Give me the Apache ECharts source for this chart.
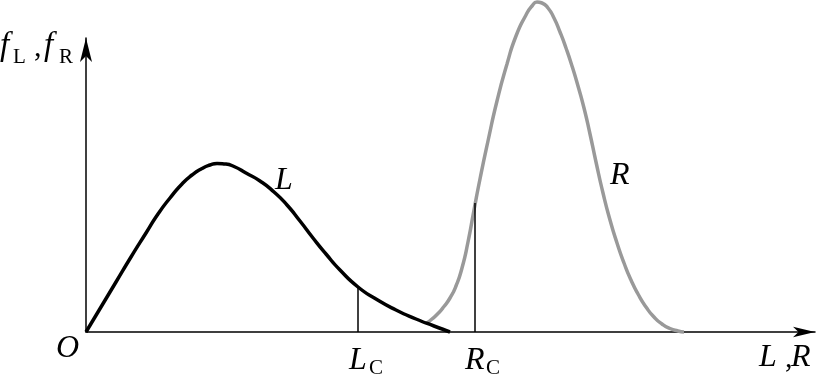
<!DOCTYPE html>
<html><head><meta charset="utf-8">
<script src="https://cdn.jsdelivr.net/npm/echarts@6/dist/echarts.min.js"></script>
<style>html,body{margin:0;padding:0;background:#fff}#c{width:824px;height:376px}</style>
</head><body><div id="c"></div>
<script>
// Load distribution L (black) : [L, f_L]
const loadCurve = [[0,0],[15,25],[30,50],[45,75],[60,99],[72,118],[84,134],[96,148],[106,157],[116,163.5],[124,167],[131,168.5],[139,168],[148,165.5],[160,159],[174,151],[188,140],[201,127],[214,111],[227,94],[240,78],[254,62],[272,45],[290,33],[310,22],[330,13],[348,6],[364,0]];
// Resistance distribution R (gray) : [R, f_R]
const resistCurve = [[341,9],[346,13],[352,18.5],[358,25.5],[364,34],[370,46],[376,64],[382,90],[388,122],[394,153],[402,191],[411,231],[421,268],[430,296],[440,317],[446,326],[451,330],[456,329],[462,324],[468,314],[474,300],[480,284],[486,266],[492,246],[498,224],[504,198],[510,170],[517,139],[524,112],[531,89],[538,69],[545,52],[552,38],[560,25],[568,15],[576,8],[584,3.5],[592,1],[598,0]];
// Critical values
const lcLine = [[272,0],[272,44]];
const rcLine = [[389,0],[389,129]];
const xMax = 729, yMax = 294;

const serif = '"Liberation Serif", "DejaVu Serif", serif';
function txt(x, y, s, size, italic) {
  return {type:'text', x:x, y:y, style:{text:s, font:(italic?'italic ':'')+size+'px '+serif, fill:'#000', verticalAlign:'bottom', align:'left'}};
}
const chart = echarts.init(document.getElementById('c'));
chart.setOption({
  animation:false,
  grid:{left:86, right:9, top:38, bottom:44},
  xAxis:{type:'value', min:0, max:xMax,
    axisLine:{show:true, symbol:['none','arrow'], symbolSize:[8,22], lineStyle:{color:'#000', width:1.5}},
    axisTick:{show:false}, axisLabel:{show:false}, splitLine:{show:false}},
  yAxis:{type:'value', min:0, max:yMax,
    axisLine:{show:true, symbol:['none','arrow'], symbolSize:[9,24], lineStyle:{color:'#000', width:1.5}},
    axisTick:{show:false}, axisLabel:{show:false}, splitLine:{show:false}},
  series:[
    {type:'line', data:resistCurve, smooth:0.6, symbol:'none', clip:false, lineStyle:{color:'#999', width:3.5}},
    {type:'line', data:loadCurve, smooth:0.6, symbol:'none', clip:false, lineStyle:{color:'#000', width:3.5}},
    {type:'line', data:lcLine, symbol:'none', lineStyle:{color:'#000', width:1.5}},
    {type:'line', data:rcLine, symbol:'none', lineStyle:{color:'#000', width:1.5}}
  ],
  graphic:[
    txt(0, 63, 'f', 33, true), txt(13, 68, 'L', 21, false), txt(34, 63, ',', 30, false),
    txt(44, 63, 'f', 33, true), txt(59, 68, 'R', 21, false),
    txt(56, 365, 'O', 32, true),
    txt(759, 374, 'L', 32, true), txt(785, 374, ',', 30, false), txt(791, 374, 'R', 32, true),
    txt(349, 377, 'L', 32, true), txt(369, 379, 'C', 21, false),
    txt(465, 377, 'R', 32, true), txt(486, 379, 'C', 21, false),
    txt(275, 197, 'L', 32, true),
    txt(610, 192, 'R', 32, true)
  ]
});
</script></body></html>
